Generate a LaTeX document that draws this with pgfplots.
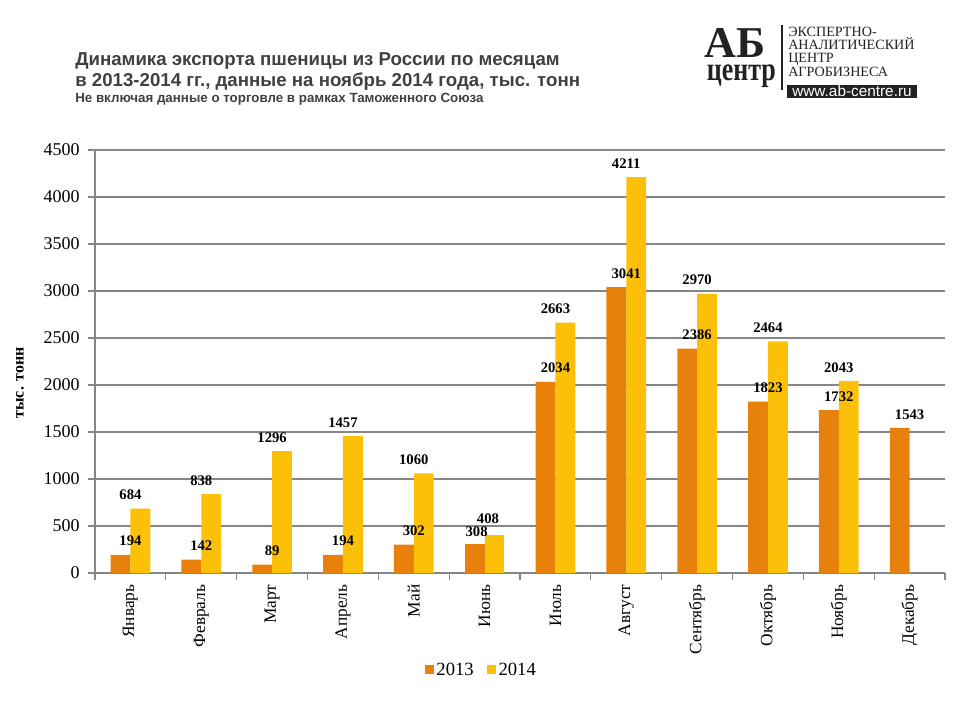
\documentclass[border=0pt]{standalone}
\usepackage{fontspec}
\setmainfont{Liberation Serif}
\newfontfamily\arial{Liberation Sans}
\usepackage{pgfplots}
\pgfplotsset{compat=1.18}
\definecolor{c13}{RGB}{232,128,12}
\definecolor{c14}{RGB}{252,192,8}
\definecolor{titlegray}{RGB}{64,64,64}
\definecolor{gridgray}{RGB}{134,134,134}
\definecolor{logo}{RGB}{34,34,34}
\begin{document}
\begin{tikzpicture}
\useasboundingbox (0,0) rectangle (720pt,-540pt);
% titles
\node[anchor=base west, inner sep=0, text=titlegray, font=\arial\bfseries\fontsize{14}{15}\selectfont] at (56.25pt,-49.5pt) {Динамика экспорта пшеницы из России по месяцам};
\node[anchor=base west, inner sep=0, text=titlegray, font=\arial\bfseries\fontsize{14}{15}\selectfont] at (56.25pt,-65.25pt) {в 2013-2014 гг., данные на ноябрь 2014 года, тыс. тонн};
\node[anchor=base west, inner sep=0, text=titlegray, font=\arial\bfseries\fontsize{10}{11}\selectfont] at (56.25pt,-77.25pt) {Не включая данные о торговле в рамках Таможенного Союза};
% logo
\node[anchor=base west, inner sep=0, text=logo, font=\bfseries\fontsize{33}{33}\selectfont, text depth=0pt] at (528pt,-43.5pt) {АБ};
\node[anchor=base west, inner sep=0, text=logo, font=\bfseries\fontsize{25}{25}\selectfont, xscale=0.78, text height=0.46em, text depth=0.2em] at (530pt,-60.5pt) {центр};
\draw[logo, line width=1pt] (586.5pt,-18.75pt) -- (586.5pt,-67.5pt);
\foreach \t/\yy in {ЭКСПЕРТНО-/27.75, АНАЛИТИЧЕСКИЙ/37.5, ЦЕНТР/47.25, АГРОБИЗНЕСА/57.75}
  \node[anchor=base west, inner sep=0, text=logo, font=\fontsize{10.6}{11}\selectfont] at (591pt,-\yy pt) {\t};
\fill[logo] (590.25pt,-63.75pt) rectangle (687.75pt,-73.5pt);
\node[anchor=center, inner sep=0, text=white, font=\arial\fontsize{11.5}{12}\selectfont] at (639pt,-68.4pt) {www.ab-centre.ru};
% y label
\node[rotate=90, font=\bfseries\fontsize{12}{12}\selectfont] at (15pt,-287.25pt) {тыс. тонн};
\begin{axis}[
 at={(71.25pt,-429.75pt)}, anchor=south west,
 scale only axis, width=637.5pt, height=317.25pt,
 ymin=0, ymax=4500, ytick={0,500,...,4500},
 xmin=-0.5, xmax=11.5,
 xtick={0,...,11},
 xticklabels={Январь,Февраль,Март,Апрель,Май,Июнь,Июль,Август,Сентябрь,Октябрь,Ноябрь,Декабрь},
 minor xtick={-0.5,0.5,...,11.5},
 major x tick style={draw=none},
 axis x line*=bottom, axis y line*=left,
 axis line style={gridgray, line width=0.8pt},
 every tick/.style={gridgray, line width=0.8pt},
 tick align=outside,
 major tick length=5.25pt, minor tick length=5.25pt,
 ymajorgrids, grid style={gridgray, line width=0.8pt},
 yticklabel={\pgfmathprintnumber[assume math mode=true,1000 sep={}]{\tick}},
 yticklabel style={font=\fontsize{13.5}{13.5}\selectfont, anchor=east, inner sep=0pt, xshift=-6pt},
 xticklabel style={font=\fontsize{13}{13}\selectfont, rotate=90, anchor=east},
 /pgf/number format/.cd, 1000 sep={}, assume math mode=true, /pgfplots/.cd,
 nodes near coords,
 every node near coord/.append style={font=\bfseries\fontsize{11}{11}\selectfont, anchor=south, yshift=3pt, /pgf/number format/assume math mode=true},
 legend style={at={(0.455,-0.229)}, anchor=center, draw=none, fill=none, legend columns=2,
   font=\fontsize{14}{14}\selectfont, /tikz/every even column/.append style={column sep=8pt}},
]
\addplot[ybar, bar width=0.28, bar shift=-0.14, fill=c13, draw=none,
  legend image code/.code={\fill[c13] (-2pt,-3.3pt) rectangle (4.6pt,3.3pt);}]
 coordinates {(0,194) (1,142) (2,89) (3,194) (4,302) (6,2034) (7,3041) (8,2386) (9,1823) (10,1732) (11,1543)};
\addlegendentry{2013}
\addplot[ybar, bar width=0.28, bar shift=0.14, fill=c14, draw=none,
  legend image code/.code={\fill[c14] (-2pt,-3.3pt) rectangle (4.6pt,3.3pt);}]
 coordinates {(0,684) (1,838) (2,1296) (3,1457) (4,1060) (6,2663) (7,4211) (8,2970) (9,2464) (10,2043)};
\addlegendentry{2014}
\addplot[ybar, bar width=0.28, bar shift=-0.14, fill=c13, draw=none, forget plot,
  every node near coord/.append style={xshift=-6pt, yshift=-1pt}]
 coordinates {(5,308)};
\addplot[ybar, bar width=0.28, bar shift=0.14, fill=c14, draw=none, forget plot,
  every node near coord/.append style={xshift=2.5pt, yshift=1.5pt}]
 coordinates {(5,408)};
\end{axis}
\end{tikzpicture}
\end{document}
